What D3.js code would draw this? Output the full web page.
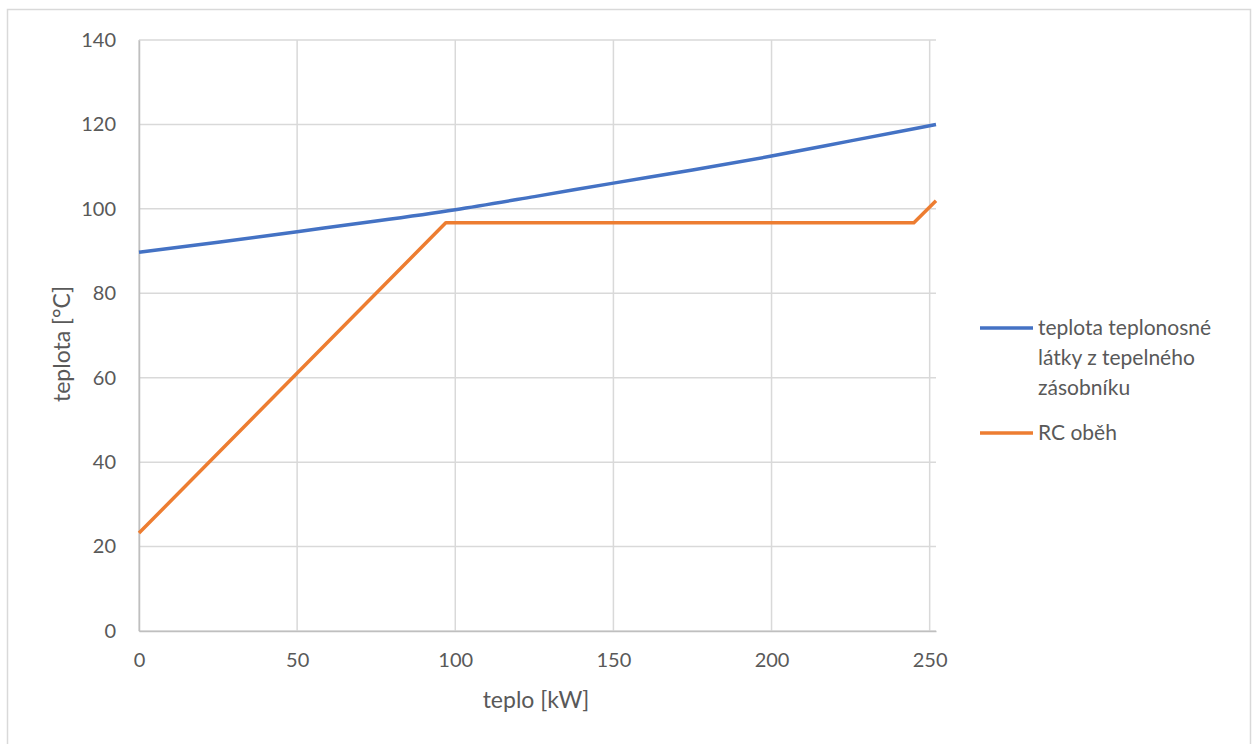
<!DOCTYPE html>
<html><head><meta charset="utf-8">
<script src="https://cdn.jsdelivr.net/npm/d3@7"></script>
<style>body{margin:0;background:#fff;} svg{display:block;font-family:Lato,"Open Sans",sans-serif;}</style>
</head><body>
<svg id="c" width="1252" height="744"></svg>
<script>
const blueX = [0, 25, 50, 75, 100, 125, 150, 175, 200, 225, 252];
const blueY = [89.7, 92.1, 94.6, 97.1, 99.8, 102.9, 106.1, 109.2, 112.5, 116.1, 120.0];
const orangeX = [0, 97, 245, 252];
const orangeY = [23.2, 96.7, 96.7, 101.9];
const xTicks = [0, 50, 100, 150, 200, 250];
const yTicks = [0, 20, 40, 60, 80, 100, 120, 140];
const seriesNames = ["teplota teplonosné látky z tepelného zásobníku", "RC oběh"];
const legendLines = [["teplota teplonosné", "látky z tepelného", "zásobníku"], ["RC oběh"]];
const colors = ["#4472c4", "#ed7d31"];

const svg = d3.select("#c");
svg.append("rect").attr("x",7.5).attr("y",9.5).attr("width",1243).attr("height",745)
  .attr("fill","none").attr("stroke","#d9d9d9").attr("stroke-width",1.5);

const x = d3.scaleLinear().domain([0, 252]).range([139, 936]);
const y = d3.scaleLinear().domain([0, 140]).range([631, 40]);

const g = svg.append("g");
g.selectAll(".hg").data(yTicks).join("line")
  .attr("x1", x(0)).attr("x2", x(252)).attr("y1", d=>y(d)).attr("y2", d=>y(d))
  .attr("stroke","#d9d9d9").attr("stroke-width",1.5);
g.selectAll(".vg").data(xTicks).join("line")
  .attr("x1", d=>x(d)).attr("x2", d=>x(d)).attr("y1", y(0)).attr("y2", y(140))
  .attr("stroke","#d9d9d9").attr("stroke-width",1.5);

const xAxis = d3.axisBottom(x).tickValues(xTicks).tickSize(0).tickPadding(22);
const yAxis = d3.axisLeft(y).tickValues(yTicks).tickSize(0).tickPadding(23);
const gx = svg.append("g").attr("transform",`translate(0,${y(0)})`).call(xAxis);
const gy = svg.append("g").attr("transform",`translate(${x(0)},0)`).call(yAxis);
[gx, gy].forEach(a => {
  a.select(".domain").attr("stroke","#bfbfbf").attr("stroke-width",1.5);
  a.selectAll("text").attr("fill","#595959").style("font-size","20px").style("font-family","Lato, 'Open Sans', sans-serif");
});
gx.selectAll("text").attr("dy","0.71em");

svg.append("text").attr("x", 536).attr("y", 708).attr("text-anchor","middle")
  .attr("fill","#595959").style("font-size","23px").text("teplo [kW]");
svg.append("text").attr("transform","translate(70,344) rotate(-90)").attr("text-anchor","middle")
  .attr("fill","#595959").style("font-size","23px").text("teplota [°C]");

const line = d3.line().x(d=>x(d[0])).y(d=>y(d[1])).curve(d3.curveMonotoneX);
const lineL = d3.line().x(d=>x(d[0])).y(d=>y(d[1]));
svg.append("path").datum(blueX.map((v,i)=>[v, blueY[i]])).attr("d", line)
  .attr("fill","none").attr("stroke",colors[0]).attr("stroke-width",3.5).attr("stroke-linejoin","round");
svg.append("path").datum(orangeX.map((v,i)=>[v, orangeY[i]])).attr("d", lineL)
  .attr("fill","none").attr("stroke",colors[1]).attr("stroke-width",3.5).attr("stroke-linejoin","round");

const legY = [328, 433];
legendLines.forEach((lines, i) => {
  svg.append("line").attr("x1",980).attr("x2",1033).attr("y1",legY[i]).attr("y2",legY[i])
    .attr("stroke",colors[i]).attr("stroke-width",3.5);
  const t = svg.append("text").attr("x",1038).attr("y",legY[i]).attr("fill","#595959")
    .style("font-size","21px");
  lines.forEach((ln, j) => t.append("tspan").attr("x",1038).attr("dy", j===0 ? "0.35em" : "30").text(ln));
});
</script>
</body></html>
